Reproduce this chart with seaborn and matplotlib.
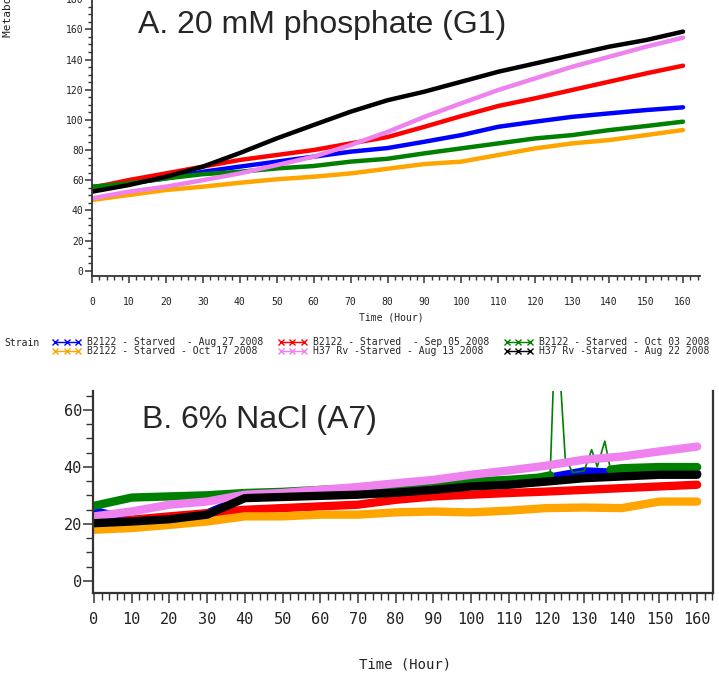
import pandas as pd
import matplotlib
matplotlib.use('Agg')
import matplotlib.pyplot as plt
from matplotlib.lines import Line2D
from matplotlib.ticker import MultipleLocator
import seaborn as sns

# sampling times (hours)
hours = [0, 10, 20, 30, 40, 50, 60, 70, 80, 90, 100, 110, 120, 130, 140, 150, 160]

strains = ['B2122 - Starved  - Aug 27 2008', 'B2122 - Starved  - Sep 05 2008',
           'B2122 - Starved - Oct 03 2008', 'B2122 - Starved - Oct 17 2008',
           'H37 Rv -Starved - Aug 13 2008', 'H37 Rv -Starved - Aug 22 2008']
colors = ['#0000ff', '#ff0000', '#008000', '#ffa500', '#ee82ee', '#000000']

# panel A: 20 mM phosphate (G1)
a_blue = [55.5, 57.9, 61.2, 65.6, 69.0, 72.3, 75.6, 78.9, 81.3, 85.5, 89.9, 95.4, 98.8, 102.0, 104.3, 106.5, 108.3]
a_red = [55.0, 60.1, 64.5, 69.0, 73.4, 76.7, 80.0, 84.4, 88.6, 95.4, 102.5, 109.2, 114.3, 119.8, 125.3, 130.8, 135.9]
a_green = [55.7, 57.9, 61.2, 64.0, 65.6, 67.8, 69.4, 72.3, 74.2, 77.8, 81.1, 84.4, 87.7, 89.9, 93.2, 95.9, 98.8]
a_orange = [46.9, 50.2, 53.5, 55.7, 58.3, 60.6, 62.3, 64.5, 67.6, 70.7, 72.3, 76.7, 81.1, 84.4, 86.6, 89.9, 93.3]
a_violet = [48.0, 52.4, 55.7, 60.0, 64.5, 70.0, 75.6, 83.3, 92.0, 102.0, 111.0, 119.8, 127.5, 135.2, 141.8, 148.5, 154.5]
a_black = [52.4, 56.8, 62.3, 69.0, 78.0, 87.7, 96.6, 105.4, 113.0, 118.7, 125.3, 131.9, 137.4, 143.0, 148.5, 152.9, 158.5]

# panel B: 6% NaCl (A7)
b_blue = [24.5, 21.3, 22.0, 23.6, 29.3, 29.7, 30.1, 30.6, 31.3, 32.3, 33.5, 34.2, 36.0, 38.4, 37.8, 37.6, 37.6]
b_red = [19.0, 21.4, 22.6, 23.7, 24.9, 25.5, 26.1, 26.7, 28.4, 29.6, 30.2, 30.8, 31.3, 31.9, 32.5, 33.1, 33.7]
b_orange = [17.9, 18.5, 19.6, 20.8, 22.6, 22.6, 23.2, 23.2, 24.0, 24.3, 24.0, 24.6, 25.5, 25.7, 25.5, 27.8, 27.8]
b_violet = [22.6, 24.3, 26.7, 27.8, 30.2, 30.8, 31.9, 32.9, 34.2, 35.4, 37.2, 38.7, 40.4, 42.5, 43.6, 45.4, 47.1]
b_black = [20.2, 20.8, 21.6, 23.2, 29.0, 29.4, 29.8, 30.2, 30.9, 31.9, 33.1, 33.7, 34.8, 36.0, 36.6, 37.2, 37.2]
# green in panel B has a spike near 122 h, so it gets its own time points
b_green_hours = [0, 10, 20, 30, 40, 50, 60, 70, 80, 90, 100, 110, 118, 121, 122, 123.5,
                 125, 127, 130, 132, 133.5, 135.5, 137, 140, 150, 160]
b_green = [26.3, 29.2, 29.6, 30.0, 30.8, 31.2, 31.9, 32.5, 33.1, 34.3, 34.8, 35.4, 36.2, 37.0, 75.0, 75.0,
           43.0, 38.0, 38.5, 46.0, 40.0, 49.0, 39.0, 39.5, 39.9, 39.9]

W, H = 719, 690
mono = ['Liberation Sans Narrow', 'DejaVu Sans Mono']
title_font = ['Liberation Sans', 'DejaVu Sans']
axis_color = '#333333'


def long_frame(series):
    rows = []
    for strain, xs, ys in series:
        for x, y in zip(xs, ys):
            rows.append({'hour': x, 'value': y, 'strain': strain})
    return pd.DataFrame(rows)


def style_axis(ax, tick_size, major_len, minor_len, pad_x):
    ax.xaxis.set_major_locator(MultipleLocator(10))
    ax.xaxis.set_minor_locator(MultipleLocator(2))
    ax.yaxis.set_major_locator(MultipleLocator(20))
    ax.yaxis.set_minor_locator(MultipleLocator(5))
    ax.tick_params(which='major', direction='out', length=major_len, width=1.1, color=axis_color)
    ax.tick_params(which='minor', direction='out', length=minor_len, width=1.0, color=axis_color)
    ax.tick_params(axis='x', which='major', pad=pad_x, labelsize=tick_size)
    ax.tick_params(axis='y', which='major', pad=1, labelsize=tick_size)
    for lab in ax.get_xticklabels() + ax.get_yticklabels():
        lab.set_family(mono)
        lab.set_color('#222222')
    ax.set_facecolor('white')
    ax.grid(False)


sns.set_style('ticks')

fig = plt.figure(figsize=(W / 100, H / 100), dpi=100)
palette = dict(zip(strains, colors))

# ---- panel A ----
ax_a = fig.add_axes([92 / W, (H - 276) / H, (700 - 92) / W, 280 / H])
df_a = long_frame([(s, hours, v) for s, v in zip(strains, [a_blue, a_red, a_green, a_orange, a_violet, a_black])])
sns.lineplot(data=df_a, x='hour', y='value', hue='strain', hue_order=strains, palette=palette,
             estimator=None, legend=False, lw=3.2, ax=ax_a)
ax_a.set_xlim(0, 164.6)
ax_a.set_ylim(-3.5, 182.1)
ax_a.set_xticks(range(0, 161, 10))
for side in ['top', 'right']:
    ax_a.spines[side].set_visible(False)
for side in ['left', 'bottom']:
    ax_a.spines[side].set_color(axis_color)
    ax_a.spines[side].set_linewidth(1.3)
style_axis(ax_a, 7, 5, 3, 10)
ax_a.set_ylabel('')
ax_a.set_xlabel('Time (Hour)', family=mono, fontsize=7, color='#222222')
ax_a.xaxis.set_label_coords((391 - 92) / 608, (276 - 317) / 280)
ax_a.xaxis.label.set_va('center')

fig.text(8 / W, 1 - 37 / H, 'Metabolic Activity', rotation=90, ha='center', va='bottom',
         family=mono, fontsize=8, color='#222222')
fig.text(138 / W, 1 - 33 / H, 'A. 20 mM phosphate (G1)', family=title_font, fontsize=23,
         ha='left', va='baseline')

# legend (column-major order so rows match the original)
order = [0, 3, 1, 4, 2, 5]
handles = [Line2D([0], [0], color=colors[i], lw=1, marker='x', markersize=4, markeredgewidth=1)
           for i in order]
labels = [strains[i] for i in order]
fig.text(4 / W, 1 - 343.5 / H, 'Strain', family=mono, fontsize=7, va='center', ha='left', color='#222222')
fig.legend(handles, labels, ncol=3, loc='upper left', bbox_to_anchor=(52 / W, 1 - 337 / H),
           frameon=False, numpoints=3, handlelength=3.0, handletextpad=0.6, columnspacing=1.5,
           labelspacing=-0.1, borderpad=0, borderaxespad=0,
           prop={'family': mono, 'size': 7})

# ---- panel B ----
ax_b = fig.add_axes([93 / W, (H - 593) / H, (713 - 93) / W, 202 / H])
df_b = long_frame([(strains[0], hours, b_blue), (strains[1], hours, b_red),
                   (strains[2], b_green_hours, b_green), (strains[3], hours, b_orange),
                   (strains[4], hours, b_violet), (strains[5], hours, b_black)])
for s in strains:
    sub = df_b[df_b['strain'] == s]
    width = 1.2 if s == strains[2] else 6
    sns.lineplot(data=sub, x='hour', y='value', color=palette[s], estimator=None,
                 lw=width, ax=ax_b)
    if s == strains[2]:
        # the green trace is a thick band apart from the spike
        sns.lineplot(data=sub[sub['hour'] <= 121], x='hour', y='value', color=palette[s],
                     estimator=None, lw=6, ax=ax_b)
        sns.lineplot(data=sub[sub['hour'] >= 137], x='hour', y='value', color=palette[s],
                     estimator=None, lw=6, ax=ax_b)
ax_b.set_xlim(-0.27, 164.2)
ax_b.set_ylim(-4.3, 66.6)
ax_b.set_xticks(range(0, 161, 10))
ax_b.spines['top'].set_visible(False)
for side in ['left', 'bottom', 'right']:
    ax_b.spines[side].set_color(axis_color)
    ax_b.spines[side].set_linewidth(1.6)
style_axis(ax_b, 11, 7, 5, 7)
ax_b.set_ylabel('')
ax_b.set_xlabel('Time (Hour)', family=mono, fontsize=10, color='#222222')
ax_b.xaxis.set_label_coords((405 - 93) / 620, (593 - 665) / 202)
ax_b.xaxis.label.set_va('center')
fig.text(142 / W, 1 - 428 / H, 'B. 6% NaCl (A7)', family=title_font, fontsize=23,
         ha='left', va='baseline')

fig.savefig('out.png', dpi=100)
